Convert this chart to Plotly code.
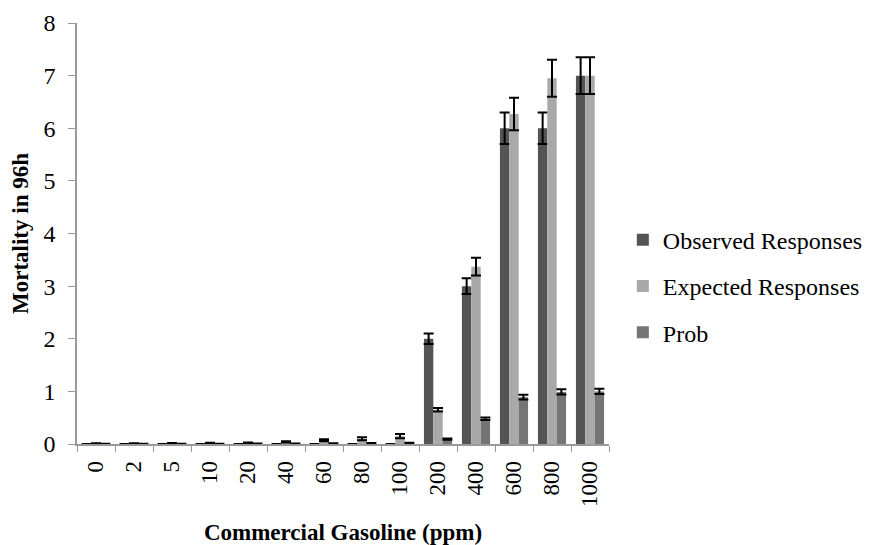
import plotly.graph_objects as go

categories = ["0", "2", "5", "10", "20", "40", "60", "80", "100", "200", "400", "600", "800", "1000"]
observed = [0, 0, 0, 0, 0, 0, 0, 0, 0, 2, 3, 6, 6, 7]
expected = [0.003, 0.005, 0.008, 0.012, 0.02, 0.04, 0.07, 0.1, 0.15, 0.65, 3.37, 6.27, 6.95, 7.0]
prob = [0.0004, 0.0007, 0.001, 0.002, 0.003, 0.006, 0.01, 0.015, 0.021, 0.093, 0.48, 0.89, 0.99, 0.998]
observed_err = [0, 0, 0, 0, 0, 0, 0, 0, 0, 0.1, 0.15, 0.3, 0.3, 0.35]
expected_err = [0.01, 0.01, 0.01, 0.01, 0.01, 0.01, 0.02, 0.03, 0.04, 0.033, 0.17, 0.31, 0.35, 0.35]
prob_err = [0.005, 0.005, 0.005, 0.005, 0.005, 0.005, 0.005, 0.005, 0.005, 0.01, 0.024, 0.045, 0.05, 0.05]

series = [
    ("Observed Responses", observed, observed_err, "#545454"),
    ("Expected Responses", expected, expected_err, "#a9a9a9"),
    ("Prob", prob, prob_err, "#757575"),
]

fig = go.Figure()
for i, (name, vals, errs, color) in enumerate(series):
    fig.add_trace(go.Bar(
        x=categories, y=vals, name=name,
        marker=dict(color=color, line=dict(width=0)),
        error_y=dict(type="data", array=errs, visible=True, color="black", thickness=2, width=5),
        legendgroup=name,
    ))

font_family = "Liberation Serif, Times New Roman, serif"
fig.update_layout(
    width=874, height=545,
    margin=dict(l=69, r=273, t=15, b=109, autoexpand=False),
    paper_bgcolor="white", plot_bgcolor="white",
    font=dict(family=font_family, color="black", size=22),
    barmode="group", bargap=0.26, bargroupgap=0,
    showlegend=True,
    legend=dict(x=1.026, y=0.375, xanchor="left", yanchor="middle",
                font=dict(family=font_family, size=24, color="black"),
                traceorder="grouped", tracegroupgap=12,
                itemwidth=30),
    xaxis=dict(
        type="category", tickangle=-90, tickson="boundaries",
        ticks="outside", ticklen=6, tickcolor="#999999",
        showline=True, linecolor="#999999", linewidth=1.5,
        tickfont=dict(family=font_family, size=23),
        ticklabelstandoff=6, automargin=False,
        title=dict(text="<b>Commercial Gasoline (ppm)</b>", font=dict(family=font_family, size=23), standoff=18),
    ),
    yaxis=dict(
        range=[0, 8], dtick=1, showgrid=False, zeroline=False,
        ticks="outside", ticklen=7, tickcolor="#999999",
        showline=True, linecolor="#999999", linewidth=1.5,
        tickfont=dict(family=font_family, size=24),
        ticklabelstandoff=8, automargin=False,
        title=dict(text="<b>Mortality in 96h</b>", font=dict(family=font_family, size=23), standoff=8),
    ),
)

fig.write_html("out.html")
